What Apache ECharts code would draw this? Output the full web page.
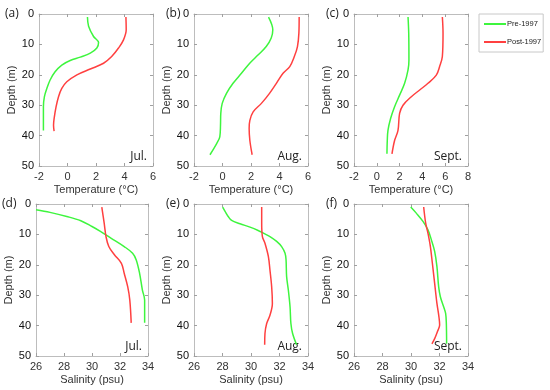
<!DOCTYPE html>
<html>
<head>
<meta charset="utf-8">
<script src="https://cdn.jsdelivr.net/npm/echarts@6/dist/echarts.min.js"></script>
<style>html,body{margin:0;padding:0;background:#fff}#c{width:550px;height:390px}</style>
</head>
<body>
<div id="c"></div>
<script>
// ---- Data ----
// (a) July temperature
const depthJulTPre  = [1, 4, 7.4, 9.4, 11.2, 12.9, 14.2, 15.3, 16.8, 19, 21.7, 24.5, 27.2, 30.5, 38.3];
const tempJulPre    = [1.4, 1.48, 1.83, 2.18, 2.06, 1.6, 0.9, 0.19, -0.4, -0.87, -1.22, -1.45, -1.62, -1.69, -1.69];
const depthJulTPost = [1, 5.2, 8.5, 11.2, 14, 16.2, 18.1, 20, 22.3, 24.5, 27.2, 30.5, 34.4, 36.6, 38.5];
const tempJulPost   = [4.1, 4.12, 3.93, 3.58, 3.1, 2.53, 1.6, 0.66, -0.05, -0.4, -0.63, -0.8, -0.94, -0.98, -0.94];
// (b) August temperature
const depthAugTPre  = [1, 5.2, 7.9, 10.7, 13.5, 16.2, 19.5, 22.8, 26.1, 29.4, 32.7, 36.6, 40.4, 42.7, 46.3];
const tempAugPre    = [3.23, 3.53, 3.42, 3.07, 2.49, 1.91, 1.33, 0.74, 0.28, -0.02, -0.12, -0.14, -0.19, -0.42, -0.88];
const depthAugTPost = [1, 6.3, 10.7, 14, 17.3, 19.5, 22.8, 26.1, 29.4, 32.2, 35, 37.7, 41.6, 46.3];
const tempAugPost   = [5.38, 5.36, 5.26, 5.04, 4.72, 4.25, 3.78, 3.3, 2.73, 2.15, 1.92, 1.87, 1.92, 2.08];
// (c) September temperature
const depthSepTPre  = [1, 6.3, 15.1, 18.4, 22.8, 26.7, 30.5, 34.4, 38.3, 41.6, 46];
const tempSepPre    = [2.74, 2.8, 2.82, 2.74, 2.44, 2.0, 1.56, 1.21, 0.98, 0.92, 0.89];
const depthSepTPost = [1, 6.3, 14, 17.3, 20.1, 22.8, 25, 27.2, 30, 32.7, 38.3, 41.6, 46];
const tempSepPost   = [5.75, 5.81, 5.75, 5.51, 5.22, 4.49, 3.76, 3.03, 2.3, 2.0, 1.86, 1.56, 1.33];
// (d) July salinity
const depthJulSPre  = [1.9, 2.75, 4.1, 5.5, 7.4, 9, 11.2, 14, 16.2, 18.4, 22.8, 28.3, 31.6, 39.1];
const salJulPre     = [26, 27.0, 28.2, 29.2, 30.0, 30.6, 31.35, 32.3, 32.9, 33.16, 33.4, 33.6, 33.76, 33.76];
const depthJulSPost = [1, 6.3, 10.7, 14, 16.7, 19.5, 22.8, 27.2, 31.6, 39.1];
const salJulPost    = [30.7, 30.87, 31.0, 31.2, 31.6, 32.1, 32.3, 32.55, 32.7, 32.8];
// (e) August salinity
const depthAugSPre  = [1, 2.4, 4.1, 5.4, 6.5, 7.6, 8.7, 9.6, 10.7, 12.3, 14, 16.2, 18.4, 23.9, 28.3, 33.8, 39.3, 42.6, 46.3];
const salAugPre     = [28.01, 28.18, 28.4, 28.64, 29.23, 29.93, 30.5, 30.87, 31.33, 31.8, 32.15, 32.39, 32.46, 32.5, 32.62, 32.74, 32.8, 32.92, 33.2];
const depthAugSPost = [1, 6.3, 10.7, 12.9, 17.3, 21.7, 27.2, 32.7, 36.6, 39.3, 42.6, 46.3];
const salAugPost    = [30.75, 30.75, 30.8, 30.98, 31.22, 31.33, 31.45, 31.5, 31.33, 31.1, 30.98, 30.96];
// (f) September salinity
const depthSepSPre  = [1, 3, 5.7, 8.5, 11.8, 15.6, 20.6, 27.2, 30.5, 33.8, 36, 39.3, 46];
const salSepPre     = [29.98, 30.37, 30.84, 31.19, 31.43, 31.66, 31.82, 31.94, 32.06, 32.29, 32.43, 32.48, 32.5];
const depthSepSPost = [1, 6.3, 9.6, 14, 19.5, 26.1, 32.7, 37.1, 39.8, 42, 44.3, 46];
const salSepPost    = [30.89, 31.03, 31.19, 31.36, 31.5, 31.66, 31.82, 31.96, 32.01, 31.85, 31.66, 31.47];

const seriesNames = ['Pre-1997', 'Post-1997'];
const panelLabels = ['(a)', '(b)', '(c)', '(d)', '(e)', '(f)'];
const monthLabels = ['Jul.', 'Aug.', 'Sept.', 'Jul.', 'Aug.', 'Sept.'];
const xNames = ['Temperature (°C)', 'Temperature (°C)', 'Temperature (°C)', 'Salinity (psu)', 'Salinity (psu)', 'Salinity (psu)'];
const xRanges = [[-2, 6], [-2, 6], [-2, 8], [26, 34], [26, 34], [26, 34]];
const depthRange = [0, 50];

// ---- Layout & styling ----
const GREEN = '#3ef53e';
const RED = '#ff4040';
const grids = [
  {left: 39, top: 14, width: 114, height: 152},
  {left: 194, top: 14, width: 114, height: 152},
  {left: 354, top: 14, width: 114, height: 152},
  {left: 36, top: 204, width: 112, height: 152},
  {left: 194, top: 204, width: 114, height: 152},
  {left: 354, top: 204, width: 114, height: 152}
];
const panelData = [
  [[tempJulPre, depthJulTPre], [tempJulPost, depthJulTPost]],
  [[tempAugPre, depthAugTPre], [tempAugPost, depthAugTPost]],
  [[tempSepPre, depthSepTPre], [tempSepPost, depthSepTPost]],
  [[salJulPre, depthJulSPre], [salJulPost, depthJulSPost]],
  [[salAugPre, depthAugSPre], [salAugPost, depthAugSPost]],
  [[salSepPre, depthSepSPre], [salSepPost, depthSepSPost]]
];
const zip = (xs, ys) => xs.map((v, i) => [v, ys[i]]);
const FONT = '"Liberation Sans", Arial, sans-serif';
const lineAx = {show: true, onZero: false, lineStyle: {color: '#bdbdbd', width: 1}};
const tickAx = {show: true, inside: true, length: 3, lineStyle: {color: '#a0a0a0'}};

const xAxis = [], yAxis = [], series = [], graphic = [];
grids.forEach((g, i) => {
  const [xmin, xmax] = xRanges[i];
  xAxis.push({
    type: 'value', gridIndex: i, position: 'bottom', min: xmin, max: xmax, interval: 2,
    axisLine: lineAx, axisTick: tickAx, splitLine: {show: false},
    axisLabel: {fontSize: 11, color: '#333', margin: 5, fontFamily: FONT},
    name: xNames[i], nameLocation: 'middle', nameGap: 18,
    nameTextStyle: {fontSize: 11, color: '#333', fontFamily: FONT}
  });
  xAxis.push({
    type: 'value', gridIndex: i, position: 'top', min: xmin, max: xmax, interval: 2,
    axisLine: lineAx, axisTick: tickAx, splitLine: {show: false}, axisLabel: {show: false}
  });
  yAxis.push({
    type: 'value', gridIndex: i, position: 'left', inverse: true, min: depthRange[0], max: depthRange[1], interval: 10,
    axisLine: lineAx, axisTick: tickAx, splitLine: {show: false},
    axisLabel: {fontSize: 11, color: '#111', margin: 5, fontFamily: FONT},
    name: 'Depth (m)', nameLocation: 'middle', nameGap: 21, nameRotate: 90,
    nameTextStyle: {fontSize: 11, color: '#333', fontFamily: FONT}
  });
  yAxis.push({
    type: 'value', gridIndex: i, position: 'right', inverse: true, min: depthRange[0], max: depthRange[1], interval: 10,
    axisLine: lineAx, axisTick: tickAx, splitLine: {show: false}, axisLabel: {show: false}
  });
  [GREEN, RED].forEach((col, k) => {
    const [xs, ys] = panelData[i][k];
    series.push({
      type: 'line', name: seriesNames[k], xAxisIndex: 2 * i, yAxisIndex: 2 * i,
      data: zip(xs, ys), symbol: 'none', smooth: 0.35, clip: true,
      lineStyle: {color: col, width: 1.5}, itemStyle: {color: col}, animation: false
    });
  });
  graphic.push({
    type: 'text', left: g.left - (i % 3 === 0 ? 34 : 28), top: g.top - 6,
    style: {text: panelLabels[i], font: '12px "Open Sans", sans-serif', fill: '#222'}
  });
  graphic.push({
    type: 'text', x: g.left + g.width - 6, y: g.top + g.height - 3,
    style: {text: monthLabels[i], font: '12px "Open Sans", sans-serif', fill: '#222', textAlign: 'right', textVerticalAlign: 'bottom'}
  });
});

const chart = echarts.init(document.getElementById('c'), null, {renderer: 'canvas'});
chart.setOption({
  animation: false,
  backgroundColor: '#fff',
  grid: grids.map(g => Object.assign({containLabel: false}, g)),
  xAxis, yAxis, series, graphic,
  legend: {
    data: seriesNames, orient: 'vertical', left: 479, top: 14,
    itemWidth: 22, itemHeight: 2, itemGap: 10, padding: [6, 2, 6, 4],
    borderColor: '#c8c8c8', borderWidth: 1,
    textStyle: {fontSize: 7.5, color: '#222', fontFamily: FONT, padding: [0, 0, 0, -4]}
  }
});
</script>
</body>
</html>
